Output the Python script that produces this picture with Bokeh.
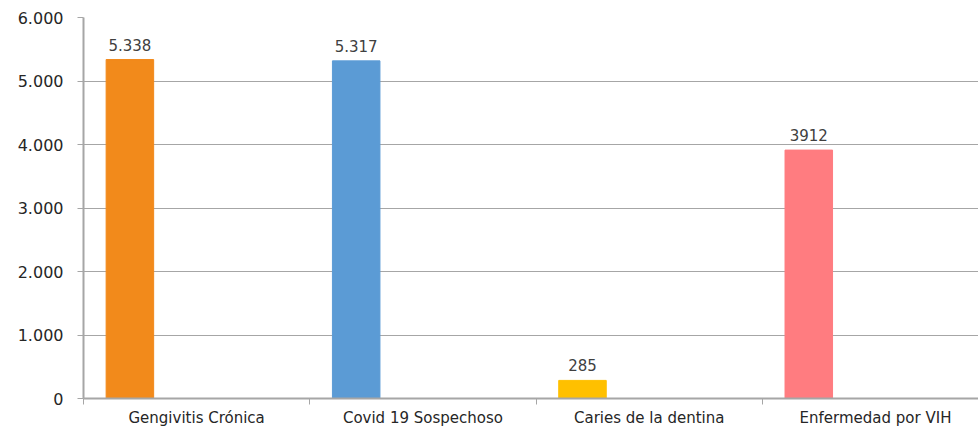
from bokeh.plotting import figure
from bokeh.models import ColumnDataSource, Range1d, FixedTicker
from bokeh.core.properties import value
from bokeh.embed import file_html
from bokeh.resources import INLINE

categories = ["Gengivitis Crónica", "Covid 19 Sospechoso", "Caries de la dentina", "Enfermedad por VIH"]
values = [5338, 5317, 285, 3912]
value_labels = ["5.338", "5.317", "285", "3912"]
colors = ["#F28A1B", "#5B9BD5", "#FFC000", "#FF7C80"]
y_ticks = [0, 1000, 2000, 3000, 4000, 5000, 6000]
y_tick_labels = ["0", "1.000", "2.000", "3.000", "4.000", "5.000", "6.000"]

idx = list(range(len(categories)))
bar_x = [i + 0.205 for i in idx]

src = ColumnDataSource(dict(x=bar_x, top=values, color=colors, lab=value_labels))

p = figure(width=978, height=429, output_backend="svg", toolbar_location=None,
           x_range=Range1d(0, 3.955), y_range=Range1d(0, 6000),
           min_border_left=83, min_border_right=0, min_border_top=17, min_border_bottom=30)
p.outline_line_color = None
p.background_fill_color = "white"
p.border_fill_color = "white"

p.vbar(x="x", top="top", width=0.21, color="color", source=src)
p.text(x="x", y="top", text="lab", source=src, text_align="center", text_baseline="bottom",
       y_offset=-9, text_font=value("DejaVu Sans"), text_font_size="15px", text_color="#404040")

# y axis
p.yaxis.ticker = FixedTicker(ticks=y_ticks)
p.yaxis.major_label_overrides = {t: l for t, l in zip(y_ticks, y_tick_labels)}
p.yaxis.major_label_text_font = "DejaVu Sans"
p.yaxis.major_label_text_font_size = "16px"
p.yaxis.major_label_text_color = "#262626"
p.yaxis.axis_line_color = "#a6a6a6"
p.yaxis.axis_line_width = 2
p.yaxis.major_tick_line_color = "#a6a6a6"
p.yaxis.major_tick_out = 6
p.yaxis.major_tick_in = 0
p.yaxis.minor_tick_line_color = None
p.yaxis.major_label_standoff = 14

# x axis
centers = [i + 0.5 for i in idx]
p.xaxis.ticker = FixedTicker(ticks=centers, minor_ticks=list(range(len(categories) + 1)))
p.xaxis.major_label_overrides = {c: n for c, n in zip(centers, categories)}
p.xaxis.major_label_text_font = "DejaVu Sans"
p.xaxis.major_label_text_font_size = "15px"
p.xaxis.major_label_text_color = "#262626"
p.xaxis.major_tick_line_color = None
p.xaxis.minor_tick_line_color = "#a6a6a6"
p.xaxis.minor_tick_out = 6
p.xaxis.minor_tick_in = 0
p.xaxis.axis_line_color = "#a6a6a6"
p.xaxis.axis_line_width = 2
p.xaxis.major_label_standoff = 4

p.xgrid.grid_line_color = None
p.ygrid.ticker = FixedTicker(ticks=y_ticks)
p.ygrid.grid_line_color = "#a6a6a6"
p.ygrid.grid_line_width = 1

open("out.html", "w").write(file_html(p, INLINE))
